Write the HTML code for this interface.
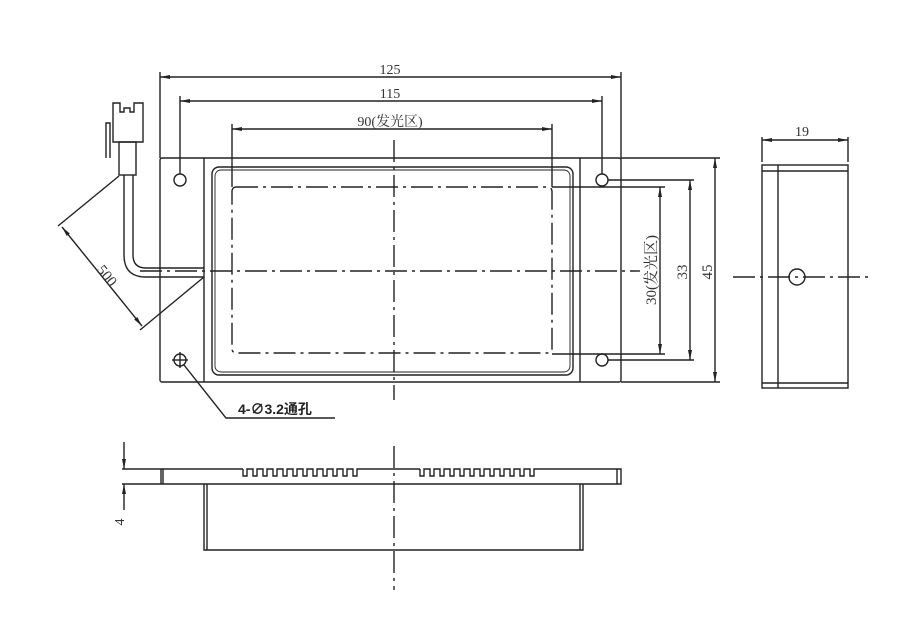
<!DOCTYPE html>
<html><head><meta charset="utf-8"><style>html,body{margin:0;background:#fff}svg{display:block}</style></head><body>
<svg width="918" height="625" viewBox="0 0 918 625" xmlns="http://www.w3.org/2000/svg" font-family="Liberation Serif, Noto Serif CJK SC, serif" fill="none" stroke="#222" stroke-width="1.4">
<defs><marker id="a" viewBox="0 0 10 6" refX="10" refY="3" markerWidth="10" markerHeight="6" markerUnits="userSpaceOnUse" orient="auto-start-reverse"><path d="M0,1 L10,3 L0,5z" fill="#222" stroke="none"/></marker></defs>
<rect x="160" y="158" width="461" height="224" rx="2"/>
<line x1="204" y1="158" x2="204" y2="382"/><line x1="580" y1="158" x2="580" y2="382"/>
<rect x="212" y="167" width="361" height="208" rx="7"/>
<rect x="215" y="170" width="355" height="202" rx="6" stroke-width="0.9"/>
<rect x="232" y="187" width="320" height="166" rx="4" stroke-dasharray="22 5 3 5"/>
<circle cx="180" cy="180" r="6"/><circle cx="602" cy="180" r="6"/><circle cx="602" cy="360" r="6"/><circle cx="180" cy="360" r="6"/>
<line x1="172" y1="360" x2="188" y2="360"/><line x1="180" y1="352" x2="180" y2="368"/>
<line x1="394" y1="140" x2="394" y2="400" stroke-dasharray="22 5 3 5"/>
<line x1="140" y1="271" x2="640" y2="271" stroke-dasharray="22 5 3 5"/>
<line x1="160" y1="158" x2="160" y2="72"/><line x1="621" y1="158" x2="621" y2="72"/>
<line x1="160" y1="77" x2="621" y2="77" marker-start="url(#a)" marker-end="url(#a)"/>
<line x1="180" y1="174" x2="180" y2="96"/><line x1="602" y1="174" x2="602" y2="96"/>
<line x1="180" y1="101" x2="602" y2="101" marker-start="url(#a)" marker-end="url(#a)"/>
<line x1="232" y1="187" x2="232" y2="124"/><line x1="552" y1="187" x2="552" y2="124"/>
<line x1="232" y1="129" x2="552" y2="129" marker-start="url(#a)" marker-end="url(#a)"/>
<g fill="#333" stroke="none" font-size="14" text-anchor="middle"><text x="390" y="74">125</text><text x="390" y="98">115</text><text x="390" y="126">90(发光区)</text></g>
<line x1="552" y1="187" x2="665" y2="187"/><line x1="552" y1="354" x2="665" y2="354"/>
<line x1="660" y1="187" x2="660" y2="354" marker-start="url(#a)" marker-end="url(#a)"/>
<line x1="608" y1="180" x2="694" y2="180"/><line x1="608" y1="360" x2="694" y2="360"/>
<line x1="690" y1="180" x2="690" y2="360" marker-start="url(#a)" marker-end="url(#a)"/>
<line x1="621" y1="158" x2="720" y2="158"/><line x1="621" y1="382" x2="720" y2="382"/>
<line x1="715" y1="158" x2="715" y2="382" marker-start="url(#a)" marker-end="url(#a)"/>
<g fill="#333" stroke="none" font-size="15" text-anchor="middle">
<text transform="translate(656,270) rotate(-90)">30(发光区)</text>
<text transform="translate(687,272) rotate(-90)">33</text>
<text transform="translate(712,272) rotate(-90)">45</text></g>
<path d="M113,142 V103 H120 V112 H124 V108 H130 V112 H134 V103 H143 V142 Z"/>
<path d="M106,158 V123 H110 V158"/>
<rect x="119" y="142" width="17" height="33"/>
<path d="M124,175 V255 Q124,277 146,277 H204 M133,175 V255 Q133,268 146,268 H204"/>
<line x1="119" y1="176" x2="58" y2="226"/><line x1="204" y1="277" x2="140" y2="330"/>
<line x1="62" y1="227" x2="142" y2="326" marker-start="url(#a)" marker-end="url(#a)"/>
<text transform="translate(96,270) rotate(51)" fill="#333" stroke="none" font-size="15">500</text>
<polyline points="184,365 226,418 335,418"/>
<text x="238" y="414" fill="#222" stroke="none" font-size="14" font-weight="bold" font-family="Liberation Sans, Noto Sans CJK SC, sans-serif">4-∅3.2通孔</text>
<rect x="762" y="165" width="86" height="223"/>
<line x1="778" y1="165" x2="778" y2="388"/>
<line x1="762" y1="171" x2="848" y2="171"/><line x1="762" y1="383" x2="848" y2="383"/>
<line x1="762" y1="137" x2="762" y2="162"/><line x1="848" y1="137" x2="848" y2="162"/>
<line x1="762" y1="140" x2="848" y2="140" marker-start="url(#a)" marker-end="url(#a)"/>
<text x="802" y="136" fill="#333" stroke="none" font-size="14" text-anchor="middle">19</text>
<line x1="733" y1="277" x2="872" y2="277" stroke-dasharray="22 5 3 5"/>
<circle cx="797" cy="277" r="8"/>
<path d="M122,469 H243 M365,469 H420 M542,469 H621 V484 H122"/>
<path d="M243,469 V476 H247 V469 H253 V476 H257 V469 H263 V476 H267 V469 H273 V476 H277 V469 H283 V476 H287 V469 H293 V476 H297 V469 H303 V476 H307 V469 H313 V476 H317 V469 H323 V476 H327 V469 H333 V476 H337 V469 H343 V476 H347 V469 H353 V476 H357 V469 H365"/>
<path d="M420,469 V476 H424 V469 H430 V476 H434 V469 H440 V476 H444 V469 H450 V476 H454 V469 H460 V476 H464 V469 H470 V476 H474 V469 H480 V476 H484 V469 H490 V476 H494 V469 H500 V476 H504 V469 H510 V476 H514 V469 H520 V476 H524 V469 H530 V476 H534 V469 H542"/>
<line x1="161" y1="469" x2="161" y2="484"/><line x1="163" y1="469" x2="163" y2="484"/>
<line x1="617" y1="469" x2="617" y2="484"/>
<path d="M204,484 V550 H583 V484"/><line x1="207" y1="484" x2="207" y2="550"/><line x1="580" y1="484" x2="580" y2="550"/>
<line x1="394" y1="446" x2="394" y2="590" stroke-dasharray="22 5 3 5"/>
<line x1="124" y1="442" x2="124" y2="469" marker-end="url(#a)"/>
<line x1="124" y1="510" x2="124" y2="484" marker-end="url(#a)"/>
<text transform="translate(124,522) rotate(-90)" fill="#333" stroke="none" font-size="14" text-anchor="middle">4</text>
</svg>
</body></html>
